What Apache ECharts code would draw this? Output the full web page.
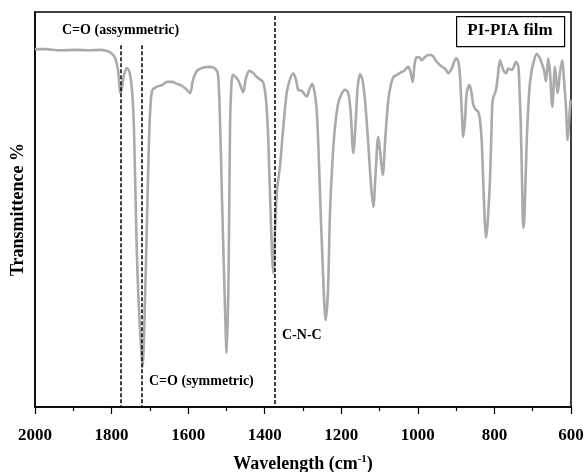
<!DOCTYPE html>
<html>
<head>
<meta charset="utf-8">
<script src="https://cdn.jsdelivr.net/npm/echarts@6/dist/echarts.min.js"></script>
<style>html,body{margin:0;padding:0;background:#fff;}#c{width:586px;height:472px;}</style>
</head>
<body>
<div id="c"></div>
<script>
// Wavenumber (cm-1) and transmittance (%)
const wavenumbers = [2000,1973.9,1934.7,1895.5,1856.3,1830.2,1811.9,1801.5,1791.0,1783.2,1776.7,1772.8,1767.5,1759.7,1753.2,1746.6,1741.4,1734.9,1728.4,1719.2,1712.7,1707.5,1702.2,1698.3,1693.1,1681.3,1668.3,1655.3,1642.2,1629.1,1616.0,1605.6,1595.1,1587.3,1576.9,1563.8,1545.5,1529.8,1522.0,1516.8,1511.5,1505.0,1499.3,1494.6,1490.7,1488.1,1482.8,1469.8,1463.2,1456.0,1448.9,1440.3,1430.6,1420.1,1404.5,1396.6,1390.6,1384.9,1377.6,1373.1,1367.9,1360.1,1351.4,1342.6,1333.9,1325.3,1318.2,1312.3,1302.6,1290.3,1283.0,1275.7,1269.9,1264.2,1259.5,1255.6,1249.1,1240.7,1234.7,1229.5,1222.9,1216.4,1207.8,1199.4,1190.3,1181.7,1175.4,1168.6,1162.9,1157.7,1151.1,1144.6,1138.0,1130.2,1122.4,1116.4,1110.7,1103.4,1097.6,1091.8,1084.5,1077.2,1070.1,1064.1,1054.5,1046.6,1036.2,1024.9,1019.2,1013.5,1008.7,1003.0,994.4,990.0,981.3,972.7,963.8,957.8,950.8,944.8,937.7,929.1,920.5,911.6,905.6,900.3,894.3,891.2,888.1,884.7,881.3,876.8,872.4,865.6,861.2,855.2,849.4,842.1,837.7,833.3,829.8,825.9,822.0,818.1,814.2,811.6,807.6,804.5,795.9,790.7,785.4,776.8,769.8,763.8,754.9,748.9,743.6,737.6,734.5,731.3,727.9,724.5,721.4,715.6,708.9,704.4,698.4,689.6,684.8,679.1,670.5,665.3,659.3,654.8,648.8,641.8,634.7,628.7,622.7,618.3,613.1,608.7,604.4,601.3];
const transmittance = [90.6,90.6,90.3,90.4,90.3,90.4,90.1,89.6,88.4,85.3,79.5,80.8,84.1,85.8,84.8,80.3,70.1,42.3,24.6,10.1,27.1,47.3,67.6,76.5,80.3,81.1,81.5,82.3,82.3,81.8,81.3,80.5,79.5,82.8,85.1,85.8,86.1,85.7,84.1,72.7,52.4,29.6,13.7,32.2,70.1,79.0,84.1,82.8,81.3,79.7,83.3,85.1,84.6,83.5,82.3,77.7,67.6,49.9,33.9,44.8,54.9,61.0,70.9,79.5,83.0,84.5,82.8,80.3,80.0,78.6,80.5,81.8,79.7,75.2,65.1,54.2,37.2,22.0,29.6,49.1,62.5,70.9,77.0,79.2,80.3,79.5,74.4,64.3,71.4,80.3,84.3,82.8,77.7,67.6,56.2,50.6,58.7,68.4,63.8,58.7,68.9,77.7,81.8,83.5,84.1,84.6,85.1,86.1,84.8,82.3,86.6,88.6,88.4,87.8,88.6,89.1,89.1,88.4,87.4,86.8,86.2,85.7,84.5,85.7,87.3,88.3,87.4,85.3,80.3,73.9,68.4,72.7,79.5,81.5,80.3,76.5,75.4,74.7,72.7,67.6,58.7,48.6,42.8,46.1,52.4,57.5,70.1,77.7,80.3,84.1,87.8,85.3,84.5,85.7,85.3,86.3,87.4,86.2,80.3,71.9,57.5,45.3,48.6,67.6,80.3,84.1,87.1,89.4,88.9,87.8,85.3,82.4,88.3,84.6,76.0,86.1,79.5,84.8,87.8,82.8,75.9,67.6,73.4,77.7];
// Dashed marker lines: wavenumber and top of the line (in % units)
const markerWavenumbers = [1776, 1722, 1375];
const markerTops = [91.6, 91.6, 99.0];
const xTicks = [2000, 1800, 1600, 1400, 1200, 1000, 800, 600];
const legendText = 'PI-PIA film';
const annotations = ['C=O (assymmetric)', 'C=O (symmetric)', 'C-N-C'];

const seriesData = wavenumbers.map((w, i) => [w, transmittance[i]]);
const markLines = markerWavenumbers.map((w, i) => [{coord: [w, markerTops[i]]}, {coord: [w, 0]}]);

const serif = '"Liberation Serif", "Times New Roman", serif';
const chart = echarts.init(document.getElementById('c'), null, {renderer: 'canvas'});
chart.setOption({
  animation: false,
  backgroundColor: '#fff',
  grid: {left: 35, right: 15, top: 12, bottom: 65, show: true, borderColor: '#000', borderWidth: 1.5,
    containLabel: false, outerBoundsMode: 'none'},
  xAxis: {
    type: 'value', min: 600, max: 2000, interval: 200, inverse: true,
    axisLine: {lineStyle: {color: '#000', width: 1.5}},
    axisTick: {length: 7, lineStyle: {color: '#000', width: 1.2}},
    minorTick: {show: true, splitNumber: 2, length: 4, lineStyle: {color: '#000', width: 1.2}},
    splitLine: {show: false},
    axisLabel: {color: '#000', fontFamily: serif, fontWeight: 'bold', fontSize: 17, margin: 20,
      formatter: v => xTicks.indexOf(v) >= 0 ? String(v) : ''},
    name: 'Wavelength (cm{sup|-1})',
    nameLocation: 'middle', nameGap: 47,
    nameTextStyle: {color: '#000', fontFamily: serif, fontWeight: 'bold', fontSize: 18, lineHeight: 20,
      rich: {sup: {fontFamily: serif, fontWeight: 'bold', fontSize: 11, verticalAlign: 'top', lineHeight: 11, color: '#000'}}}
  },
  yAxis: {
    type: 'value', min: 0, max: 100,
    axisLine: {show: true, lineStyle: {color: '#000', width: 1.5}},
    axisTick: {show: false}, axisLabel: {show: false}, splitLine: {show: false},
    name: 'Transmittence %', nameLocation: 'middle', nameGap: 8,
    nameTextStyle: {color: '#000', fontFamily: serif, fontWeight: 'bold', fontSize: 18}
  },
  series: [{
    type: 'line', data: seriesData, showSymbol: false, smooth: 0.3,
    lineStyle: {color: '#aaaaaa', width: 2.6},
    markLine: {
      silent: true, symbol: ['none', 'none'], label: {show: false},
      lineStyle: {color: '#000', type: [4, 2], width: 1.5},
      data: markLines
    }
  }],
  graphic: [
    {type: 'rect', left: 456, top: 16, shape: {width: 108, height: 30},
      style: {fill: '#fff', stroke: '#000', lineWidth: 1.2}},
    {type: 'text', x: 510, y: 31, style: {text: legendText, font: 'bold 17px ' + serif, fill: '#000', align: 'center', verticalAlign: 'middle'}},
    {type: 'text', x: 62, y: 30, style: {text: annotations[0], font: 'bold 14px ' + serif, fill: '#000', align: 'left', verticalAlign: 'middle'}},
    {type: 'text', x: 149, y: 381, style: {text: annotations[1], font: 'bold 14px ' + serif, fill: '#000', align: 'left', verticalAlign: 'middle'}},
    {type: 'text', x: 282, y: 335, style: {text: annotations[2], font: 'bold 14px ' + serif, fill: '#000', align: 'left', verticalAlign: 'middle'}}
  ]
});
</script>
</body>
</html>
